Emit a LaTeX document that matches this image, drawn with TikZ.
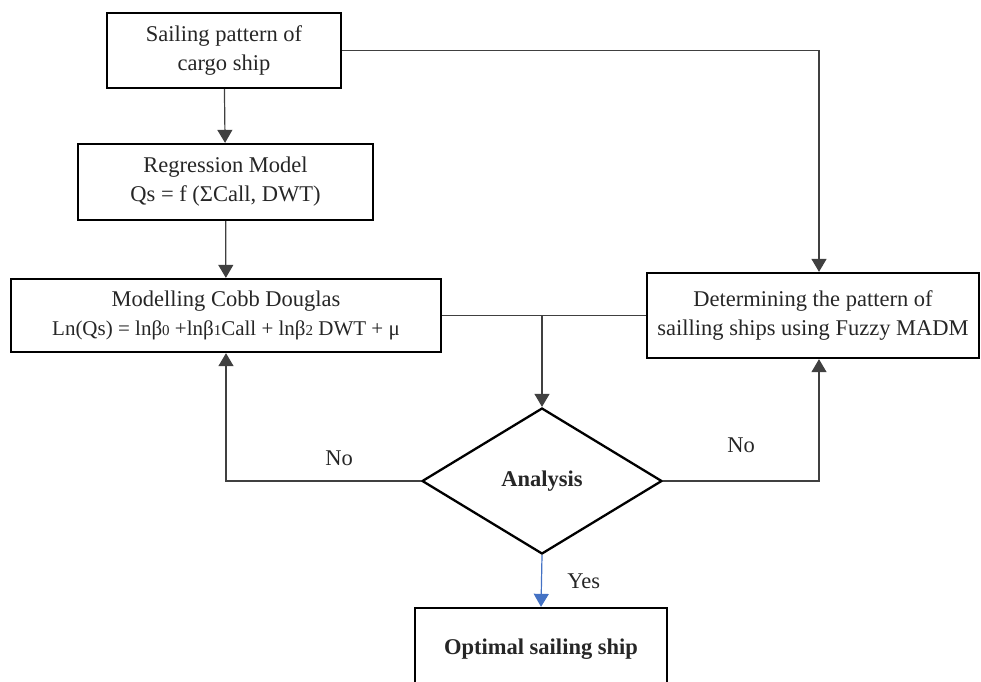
\documentclass[tikz,border=0pt]{standalone}
\usepackage{fontspec}
\setmainfont{Liberation Serif}
\usepackage{xcolor}
\usepackage{tikz}
\usetikzlibrary{shapes.geometric, arrows.meta, calc}
\definecolor{txt}{RGB}{38,38,38}
\definecolor{yesblue}{RGB}{68,114,196}
\newcommand{\od}[1]{{\fontsize{15}{15}\selectfont #1}}

\begin{document}
\begin{tikzpicture}[x=1pt, y=-1pt, font=\fontsize{22.5}{29}\selectfont, text=txt,
    box/.style={draw, line width=2.3pt, inner sep=0pt, align=center},
    link/.style={line width=1.2pt, draw=black!75, -{Triangle[width=15pt,length=13pt]}}]
    \useasboundingbox (0,0) rectangle (981,681);
    \node[box, minimum width=234pt, minimum height=75pt] (sail) at (224,50.5) {Sailing pattern of\\cargo ship};
    \node[box, minimum width=295pt, minimum height=76pt] (reg) at (225.5,182) {Regression Model\\Qs = f (ΣCall, DWT)};
    \node[box, minimum width=430pt, minimum height=73pt] (cobb) at (226,315.5) {Modelling Cobb Douglas\\{\fontsize{21}{29}\selectfont Ln(Qs) = lnβ\od{0} +lnβ\od{1}Call + lnβ\od{2} DWT + μ}};
    \node[box, minimum width=332pt, minimum height=85pt] (madm) at (813,315.5) {Determining the pattern of\\sailling ships using Fuzzy MADM};
    \node[box, diamond, minimum width=240pt, minimum height=146pt] (ana) at (542,481) {\bfseries Analysis};
    \node[box, minimum width=252pt, minimum height=82pt] (opt) at (541,649) {\bfseries Optimal sailing ship};
    \draw[link] (sail) -- (reg);
    \draw[link] (reg) -- (cobb);
    \draw[link] (sail.east) -| ([xshift=6pt]madm.north);
    \draw[link, -] (cobb.east) -- (madm.west);
    \draw[link] (cobb.east -| ana.north) -- (ana.north);
    \draw[link] (ana.west) -| (cobb.south) node[pos=0.21, above=11pt] {No};
    \draw[link] (ana.east) -| ([xshift=6pt]madm.south) node[pos=0.25, above=24pt] {No};
    \draw[link, draw=yesblue, -{Triangle[width=15pt,length=13pt,fill=yesblue]}] (ana.south) -- (opt.north) node[midway, right=22pt] {Yes};
\end{tikzpicture}
\end{document}
